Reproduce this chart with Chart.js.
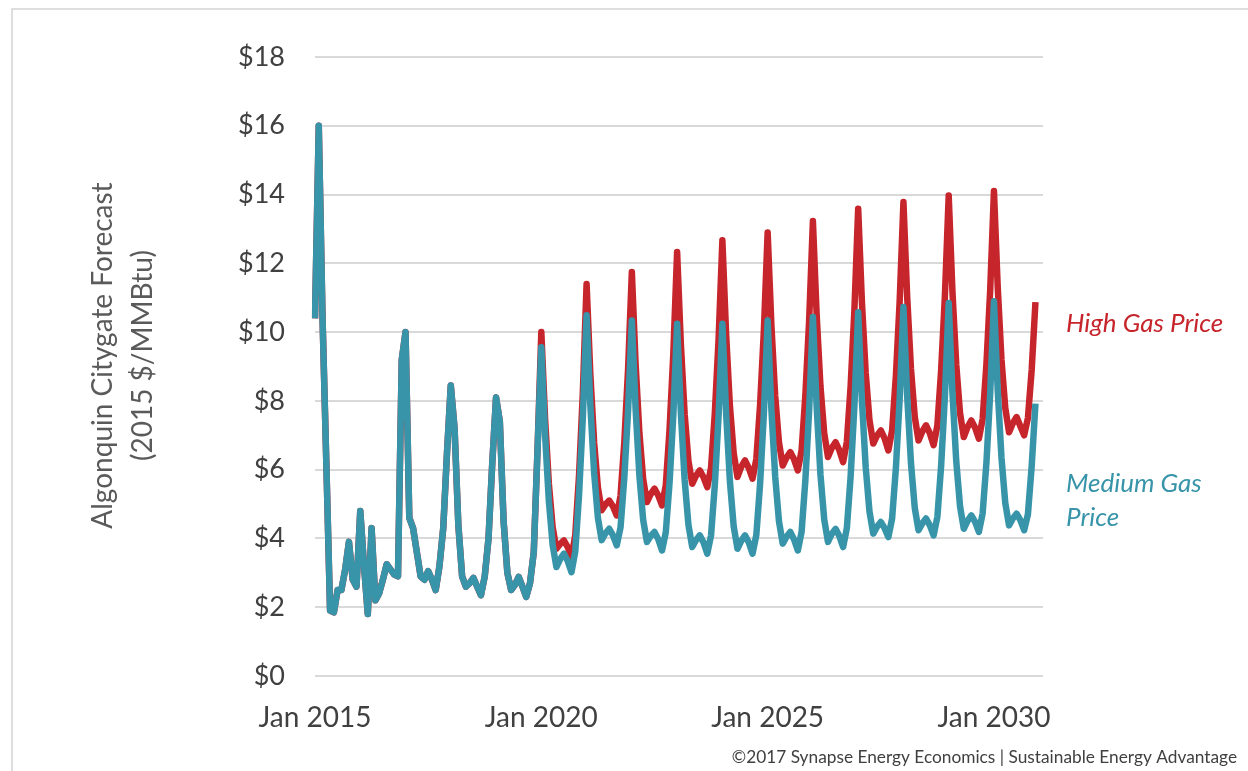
<!DOCTYPE html>
<html>
<head>
<meta charset="utf-8">
<script src="https://cdn.jsdelivr.net/npm/chart.js@4.4.1/dist/chart.umd.min.js"></script>
<style>
  html, body { margin: 0; padding: 0; background: #ffffff; }
  #gas_canvas { display: block; }
</style>
</head>
<body>
<canvas id="gas_canvas" width="1248" height="771"></canvas>
<script>
// Monthly prices, 2015 $/MMBtu
// Jan 2015 - Dec 2019 (both scenarios share this)
var historyPrices = [
    10.4, 16.0, 10.4, 6.2, 1.9, 1.85, 2.5, 2.5, 3.1, 3.9, 2.8, 2.6,
    4.8, 3.2, 1.8, 4.3, 2.2, 2.4, 2.8, 3.25, 3.1, 2.95, 2.9, 9.2,
    10.0, 4.6, 4.3, 3.6, 2.9, 2.8, 3.05, 2.8, 2.5, 3.2, 4.3, 6.5,
    8.45, 7.2, 4.4, 2.9, 2.6, 2.7, 2.85, 2.6, 2.35, 2.9, 4.0, 6.2,
    8.1, 7.4, 4.5, 3.0, 2.5, 2.65, 2.88, 2.6, 2.3, 2.7, 3.6, 6.6
];

// Jan 2020 - Dec 2030
var mediumForecast = [
    9.56, 7.00, 5.09, 3.81, 3.17, 3.40, 3.56, 3.34, 3.02, 3.62, 5.26, 7.50,
    10.49, 7.87, 5.91, 4.60, 3.95, 4.15, 4.28, 4.09, 3.80, 4.32, 5.76, 7.72,
    10.34, 7.76, 5.83, 4.54, 3.90, 4.07, 4.19, 3.98, 3.65, 4.18, 5.63, 7.60,
    10.24, 7.64, 5.70, 4.40, 3.75, 3.95, 4.09, 3.88, 3.56, 4.09, 5.56, 7.57,
    10.24, 7.62, 5.66, 4.35, 3.70, 3.93, 4.09, 3.88, 3.56, 4.10, 5.59, 7.63,
    10.34, 7.74, 5.80, 4.50, 3.85, 4.05, 4.19, 3.97, 3.65, 4.19, 5.69, 7.72,
    10.44, 7.82, 5.86, 4.55, 3.90, 4.13, 4.28, 4.07, 3.75, 4.30, 5.80, 7.85,
    10.58, 8.00, 6.07, 4.78, 4.14, 4.34, 4.48, 4.30, 4.04, 4.58, 6.05, 8.05,
    10.73, 8.13, 6.19, 4.89, 4.24, 4.44, 4.58, 4.38, 4.09, 4.63, 6.12, 8.15,
    10.85, 8.22, 6.25, 4.94, 4.28, 4.51, 4.67, 4.48, 4.19, 4.73, 6.20, 8.22,
    10.90, 8.29, 6.34, 5.03, 4.38, 4.58, 4.72, 4.53, 4.24, 4.70, 6.10, 7.92
];

var highForecast = [
    10.00, 7.48, 5.59, 4.33, 3.70, 3.84, 3.94, 3.75, 3.46, 4.10, 5.84, 8.22,
    11.40, 8.77, 6.79, 5.48, 4.82, 4.99, 5.10, 4.93, 4.67, 5.24, 6.79, 8.92,
    11.75, 9.07, 7.07, 5.73, 5.06, 5.29, 5.45, 5.25, 4.96, 5.55, 7.17, 9.38,
    12.33, 9.63, 7.61, 6.26, 5.59, 5.82, 5.98, 5.78, 5.49, 6.06, 7.64, 9.80,
    12.67, 9.92, 7.85, 6.48, 5.79, 6.08, 6.27, 6.05, 5.74, 6.31, 7.89, 10.04,
    12.90, 10.19, 8.15, 6.80, 6.12, 6.35, 6.51, 6.30, 5.98, 6.56, 8.16, 10.33,
    13.23, 10.49, 8.43, 7.06, 6.37, 6.63, 6.80, 6.57, 6.22, 6.81, 8.43, 10.64,
    13.59, 10.86, 8.81, 7.44, 6.76, 6.99, 7.14, 6.91, 6.56, 7.14, 8.73, 10.89,
    13.78, 11.01, 8.93, 7.54, 6.85, 7.11, 7.29, 7.06, 6.71, 7.29, 8.89, 11.07,
    13.97, 11.16, 9.06, 7.65, 6.95, 7.24, 7.43, 7.22, 6.90, 7.48, 9.06, 11.22,
    14.10, 11.30, 9.19, 7.79, 7.09, 7.35, 7.53, 7.26, 7.00, 7.50, 8.90, 10.87
];

var xTickLabels = ["Jan 2015", "Jan 2020", "Jan 2025", "Jan 2030"];
var seriesNames = ["Medium Gas Price", "High Gas Price"];
var axisTitle = ["Algonquin Citygate Forecast", "(2015 $/MMBtu)"];
var sourceNote = "\u00a92017 Synapse Energy Economics | Sustainable Energy Advantage";

var mediumColor = "#3794a9";
var highColor = "#c6252c";
var textColor = "#404040";

// one category per month, Jan 2015 .. Feb 2031 (last two are empty space)
var monthNames = ["Jan", "Feb", "Mar", "Apr", "May", "Jun", "Jul", "Aug", "Sep", "Oct", "Nov", "Dec"];
var monthLabels = [];
for (var yr = 2015; yr <= 2031; yr++) {
    for (var m = 0; m < 12; m++) {
        if (yr === 2031 && m > 1) break;
        monthLabels.push(monthNames[m] + " " + yr);
    }
}

// frame, rotated axis title, series names and source line
var extrasPlugin = {
    id: "extras",
    afterDraw: function (chart) {
        var ctx = chart.ctx;
        var area = chart.chartArea;
        var yScale = chart.scales.y;
        ctx.save();

        ctx.strokeStyle = "#dedede";
        ctx.lineWidth = 2;
        ctx.beginPath();
        ctx.moveTo(12, chart.height);
        ctx.lineTo(12, 9);
        ctx.lineTo(chart.width, 9);
        ctx.stroke();

        // axis title, two lines, rotated
        var midY = (area.top + area.bottom) / 2 - 11;
        ctx.fillStyle = "#5a5a5a";
        ctx.font = "28px Lato";
        ctx.textAlign = "center";
        ctx.textBaseline = "alphabetic";
        [112, 152].forEach(function (bx, i) {
            ctx.save();
            ctx.translate(bx, midY);
            ctx.rotate(-Math.PI / 2);
            ctx.fillText(axisTitle[i], 0, 0);
            ctx.restore();
        });

        ctx.textBaseline = "middle";
        ctx.textAlign = "left";
        ctx.font = "italic 26px Lato";
        ctx.fillStyle = highColor;
        ctx.fillText(seriesNames[1], area.right + 23, yScale.getPixelForValue(10.25));
        ctx.fillStyle = mediumColor;
        ctx.fillText("Medium Gas", area.right + 23, yScale.getPixelForValue(5.6));
        ctx.fillText("Price", area.right + 23, yScale.getPixelForValue(4.6));

        ctx.font = "17.3px Lato";
        ctx.fillStyle = textColor;
        ctx.textAlign = "right";
        ctx.fillText(sourceNote, chart.width - 11, chart.height - 14);
        ctx.restore();
    }
};

var gas_canvas = document.getElementById("gas_canvas");

var gasChart = new Chart(gas_canvas, {
    type: "line",
    data: {
        labels: monthLabels,
        datasets: [
            {
                label: seriesNames[0],
                data: historyPrices.concat(mediumForecast),
                borderColor: mediumColor,
                borderWidth: 6.5,
                pointRadius: 0,
                borderJoinStyle: "round",
                fill: false,
            },
            {
                label: seriesNames[1],
                data: historyPrices.concat(highForecast),
                borderColor: highColor,
                borderWidth: 6.5,
                pointRadius: 0,
                borderJoinStyle: "round",
                fill: false,
            },
        ],
    },
    options: {
        responsive: false,
        animation: false,
        layout: {
            padding: { left: 90, right: 205, top: 57, bottom: 0 },
        },
        plugins: {
            legend: { display: false },
            tooltip: { enabled: false },
        },
        scales: {
            x: {
                offset: false,
                grid: { display: false, drawTicks: false },
                border: { display: false },
                ticks: {
                    autoSkip: false,
                    maxRotation: 0,
                    minRotation: 0,
                    padding: 25,
                    color: textColor,
                    font: { family: "Lato", size: 28 },
                    callback: function (value) {
                        var lab = this.getLabelForValue(value);
                        return xTickLabels.indexOf(lab) >= 0 ? lab : "";
                    },
                },
                afterFit: function (scale) {
                    scale.height = 95;
                },
            },
            y: {
                min: 0,
                max: 18,
                grid: { color: "#d9d9d9", lineWidth: 2, drawTicks: false },
                border: { display: false },
                ticks: {
                    stepSize: 2,
                    padding: 30,
                    color: textColor,
                    font: { family: "Lato", size: 27 },
                    callback: function (value) {
                        return "$" + value;
                    },
                },
                afterFit: function (scale) {
                    scale.width = 225;
                },
            },
        },
    },
    plugins: [extrasPlugin],
});
</script>
</body>
</html>
